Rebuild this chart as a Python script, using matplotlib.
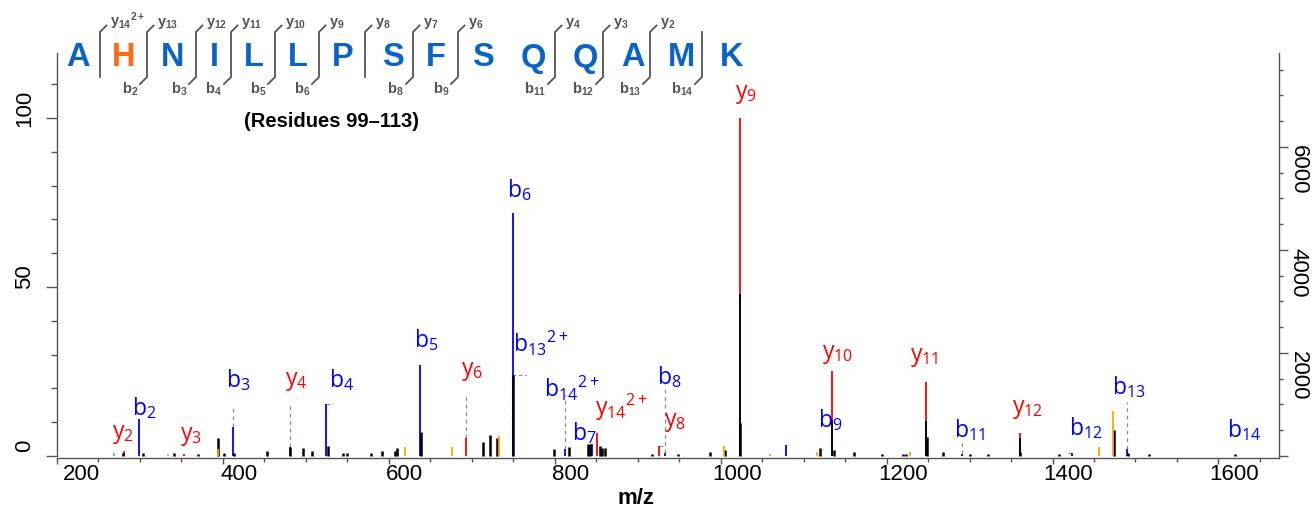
import matplotlib
matplotlib.use("Agg")
import matplotlib.pyplot as plt
from matplotlib.ticker import MultipleLocator, FixedLocator
from matplotlib.transforms import Affine2D
from matplotlib.lines import Line2D

plt.rcParams['font.family'] = ['Liberation Sans', 'DejaVu Sans']
plt.rcParams['mathtext.fontset'] = 'custom'
plt.rcParams['mathtext.rm'] = 'Open Sans'
plt.rcParams['mathtext.it'] = 'Open Sans:italic'
plt.rcParams['mathtext.bf'] = 'Liberation Sans:bold'

# ---------------- data (relative intensity, %) ----------------
b_mz = [298.4, 411.7, 524.1, 637.3, 749.8, 812.4, 844.6, 932.5, 1078.3, 1291.2, 1422.9, 1489.2]
b_int = [10.8, 8.7, 15.4, 26.8, 72.0, 2.0, 3.5, 1.0, 3.3, 0.5, 0.8, 2.0]

y_mz = [281.1, 353.4, 481.1, 692.8, 851.4, 925.7, 1022.9, 1134.6, 1247.8, 1360.2]
y_int = [1.5, 0.5, 2.6, 5.2, 6.9, 3.0, 100.0, 25.0, 22.0, 6.7]

orange_mz = [333.7, 394.3, 619.6, 675.9, 732.2, 1004.0, 1059.4, 1116.5, 1228.1, 1455.8, 1472.7]
orange_int = [0.5, 2.0, 2.6, 2.6, 6.0, 3.0, 0.5, 1.3, 1.2, 2.8, 13.3]

cyan_mz = [269.0]
cyan_int = [0.8]

black_mz = [279.2, 303.3, 340.6, 369.5, 394.3, 400.8, 413.6, 452.6, 481.1, 496.7, 507.2,
            526.1, 544.6, 549.0, 578.3, 591.2, 607.6, 609.6, 638.6, 713.6, 721.7, 730.1,
            749.8, 799.2, 817.2, 840.6, 842.5, 854.6, 857.5, 860.2, 916.9, 949.0, 987.1,
            1005.2, 1022.9, 1119.6, 1136.5, 1160.6, 1194.0, 1220.1, 1223.7, 1249.0, 1268.3,
            1300.0, 1322.0, 1361.4, 1408.4, 1474.7, 1490.7, 1516.9, 1620.5]
black_int = [1.0, 1.0, 1.0, 0.7, 5.2, 1.0, 1.0, 1.5, 2.6, 2.5, 1.5,
             3.0, 0.8, 0.8, 1.0, 1.5, 1.5, 2.5, 7.2, 4.0, 6.2, 5.2,
             24.0, 2.0, 2.6, 3.5, 3.5, 3.0, 2.5, 2.5, 0.5, 0.7, 1.2,
             1.8, 9.7, 2.3, 1.8, 1.2, 0.5, 0.6, 0.6, 5.7, 1.2,
             0.7, 0.5, 1.2, 0.5, 7.7, 0.8, 0.5, 0.5]

black_thin_mz = [1022.9, 1134.6, 1247.8, 1360.2]
black_thin_int = [48.0, 10.5, 10.4, 5.2]

# dashed guide lines from peak top to label
guide_mz = [411.7, 481.1, 692.8, 748.0, 812.4, 932.5, 1291.2, 1489.2]
guide_lo = [8.7, 2.6, 5.2, 0.0, 2.0, 1.0, 0.5, 2.0]
guide_hi = [15.0, 15.0, 18.0, 24.0, 18.0, 21.0, 4.7, 16.0]
# short horizontal brackets
bracket_x0 = [524.1, 748.0, 925.7, 1419.0]
bracket_x1 = [533.0, 765.0, 932.5, 1424.0]
bracket_y = [15.4, 24.0, 3.0, 0.8]

# peak labels: text, m/z, baseline height, ion type
lab_text = [r'$\mathrm{y}_{2}$', r'$\mathrm{b}_{2}$', r'$\mathrm{y}_{3}$', r'$\mathrm{b}_{3}$',
            r'$\mathrm{y}_{4}$', r'$\mathrm{b}_{4}$', r'$\mathrm{b}_{5}$', r'$\mathrm{y}_{6}$',
            r'$\mathrm{b}_{6}$', r'$\mathrm{b}_{13}{}^{2+}$', r'$\mathrm{b}_{14}{}^{2+}$',
            r'$\mathrm{b}_{7}$', r'$\mathrm{y}_{14}{}^{2+}$', r'$\mathrm{b}_{8}$', r'$\mathrm{y}_{8}$',
            r'$\mathrm{y}_{9}$', r'$\mathrm{y}_{10}$', r'$\mathrm{b}_{9}$', r'$\mathrm{y}_{11}$',
            r'$\mathrm{b}_{11}$', r'$\mathrm{y}_{12}$', r'$\mathrm{b}_{12}$', r'$\mathrm{b}_{13}$',
            r'$\mathrm{b}_{14}$']
lab_mz = [279.2, 305.2, 361.4, 418.1, 488.0, 543.4, 644.6, 700.0, 757.8, 783.1, 821.1,
          835.3, 880.7, 937.8, 944.9, 1030.0, 1140.6, 1132.5, 1245.8, 1300.4, 1369.5,
          1439.8, 1492.0, 1630.5]
lab_y = [5.3, 12.0, 4.8, 20.4, 21.0, 20.4, 32.2, 24.0, 76.6, 30.7, 17.4,
         4.6, 12.2, 21.4, 8.8, 105.9, 29.0, 8.6, 28.0, 5.6, 12.7, 6.1, 18.4, 5.6]
lab_type = ['y', 'b', 'y', 'b', 'y', 'b', 'b', 'y', 'b', 'b', 'b',
            'b', 'y', 'b', 'y', 'y', 'y', 'b', 'y', 'b', 'y', 'b', 'b', 'b']

x_ticklabels = [200, 400, 600, 800, 1000, 1200, 1400, 1600]
left_ticklabels = [0, 50, 100]
right_ticklabels = [2000, 4000, 6000]
COUNTS_PER_PCT = 65.63

# peptide header
sequence = list("AHNILLPSFSQQAMK")
seq_colors = ['#0A64C8', '#FF6A13'] + ['#0A64C8'] * 13
cut_y = [r'$\mathbf{y}_{\mathbf{14}}{}^{\mathbf{2+}}$', r'$\mathbf{y}_{\mathbf{13}}$',
         r'$\mathbf{y}_{\mathbf{12}}$', r'$\mathbf{y}_{\mathbf{11}}$', r'$\mathbf{y}_{\mathbf{10}}$',
         r'$\mathbf{y}_{\mathbf{9}}$', r'$\mathbf{y}_{\mathbf{8}}$', r'$\mathbf{y}_{\mathbf{7}}$',
         r'$\mathbf{y}_{\mathbf{6}}$', r'$\mathbf{y}_{\mathbf{4}}$', r'$\mathbf{y}_{\mathbf{3}}$',
         r'$\mathbf{y}_{\mathbf{2}}$', None]
cut_b = [None, r'$\mathbf{b}_{\mathbf{2}}$', r'$\mathbf{b}_{\mathbf{3}}$', r'$\mathbf{b}_{\mathbf{4}}$',
         r'$\mathbf{b}_{\mathbf{5}}$', r'$\mathbf{b}_{\mathbf{6}}$', None, r'$\mathbf{b}_{\mathbf{8}}$',
         r'$\mathbf{b}_{\mathbf{9}}$', r'$\mathbf{b}_{\mathbf{11}}$', r'$\mathbf{b}_{\mathbf{12}}$',
         r'$\mathbf{b}_{\mathbf{13}}$', r'$\mathbf{b}_{\mathbf{14}}$']

# ---------------- layout (pixels) ----------------
W, H = 1315, 508
fig = plt.figure(figsize=(W / 100, H / 100), dpi=100)
L, R, B, T = 57, 1279, 458, 53
ax = fig.add_axes([L / W, (H - B) / H, (R - L) / W, (B - T) / H])
ax.set_xlim(200, 1673)
ax.set_ylim(-0.6, 119.2)

BLUE, RED, ORANGE, CYAN = '#0000FF', '#FF0000', '#FFA500', '#3FC5E8'
ax.vlines(b_mz, 0, b_int, colors=BLUE, lw=1.3, zorder=2)
ax.vlines(y_mz, 0, y_int, colors=RED, lw=1.3, zorder=2)
ax.vlines(black_thin_mz, 0, black_thin_int, colors='black', lw=1.3, zorder=3)
ax.vlines(black_mz, 0, black_int, colors='black', lw=1.8, zorder=3)
ax.vlines(orange_mz, 0, orange_int, colors=ORANGE, lw=1.3, zorder=4)
ax.vlines(cyan_mz, 0, cyan_int, colors=CYAN, lw=1.3, zorder=4)

GRAY = '#8C8C8C'
ax.vlines(guide_mz, guide_lo, guide_hi, colors=GRAY, lw=0.9, linestyles=(0, (3, 3)), zorder=1)
ax.hlines(bracket_y, bracket_x0, bracket_x1, colors=GRAY, lw=0.9, linestyles=(0, (3, 2)), zorder=1)

for t, x, y, k in zip(lab_text, lab_mz, lab_y, lab_type):
    ax.text(x, y, t, color=BLUE if k == 'b' else RED, fontsize=16.5,
            ha='center', va='baseline', zorder=5)

AX_COL = '#555555'
for s in ['top', 'right']:
    ax.spines[s].set_visible(False)
for s in ['left', 'bottom']:
    ax.spines[s].set_color(AX_COL)
    ax.spines[s].set_linewidth(1.0)
ax.spines['left'].set_bounds(0, 119.2)

ax.xaxis.set_major_locator(MultipleLocator(200))
ax.xaxis.set_minor_locator(MultipleLocator(50))
ax.yaxis.set_major_locator(FixedLocator(left_ticklabels))
ax.yaxis.set_minor_locator(MultipleLocator(10))
ax.tick_params(axis='x', which='major', length=4.3, width=1.0, color=AX_COL, labelbottom=False)
ax.tick_params(axis='x', which='minor', length=3.0, width=1.0, color=AX_COL)
ax.tick_params(axis='y', which='major', length=7.7, width=1.0, color=AX_COL, labelleft=False)
ax.tick_params(axis='y', which='minor', length=4.1, width=1.0, color=AX_COL)

ax2 = ax.twinx()
ax2.set_ylim(-0.6 * COUNTS_PER_PCT, 119.2 * COUNTS_PER_PCT)
for s in ['top', 'left', 'bottom']:
    ax2.spines[s].set_visible(False)
ax2.spines['right'].set_color(AX_COL)
ax2.spines['right'].set_linewidth(1.0)
ax2.yaxis.set_major_locator(FixedLocator([0] + right_ticklabels))
ax2.yaxis.set_minor_locator(MultipleLocator(500))
ax2.tick_params(axis='y', which='major', length=6.5, width=1.0, color=AX_COL, labelright=False)
ax2.tick_params(axis='y', which='minor', length=3.0, width=1.0, color=AX_COL)

for v in x_ticklabels:
    dx = 24 if v == x_ticklabels[0] else 16
    ax.annotate(str(v), xy=(v, 0), xycoords=('data', 'axes fraction'), xytext=(dx, -17),
                textcoords='offset pixels', ha='center', va='center', fontsize=16)
for v in left_ticklabels:
    ax.annotate(str(v), xy=(0, v), xycoords=('axes fraction', 'data'), xytext=(-32, 10),
                textcoords='offset pixels', ha='center', va='center', fontsize=16, rotation=90)
for v in right_ticklabels:
    ax2.annotate(str(v), xy=(1, v), xycoords=('axes fraction', 'data'), xytext=(19, -23),
                 textcoords='offset pixels', ha='center', va='center', fontsize=16, rotation=-90)

fig.text(636 / W, 1 - 499 / H, 'm/z', fontsize=16, fontweight='bold', ha='center', va='center')

# ---------------- peptide header ----------------
pix = Affine2D().scale(1 / W, -1 / H).translate(0, 1) + fig.transFigure
seq_x = [78, 124, 173, 214, 254, 298, 343, 393, 436, 483, 533, 585, 633, 681, 732]
cut_x = [100, 147, 196, 231, 275, 319, 365, 413, 458, 555, 603, 650, 702]
for ch, x, c in zip(sequence, seq_x, seq_colors):
    fig.text(x, 66.5, ch, transform=pix, fontsize=23.5, fontweight='bold', color=c,
             ha='center', va='baseline')

MK = '#555555'
for x, yl, bl in zip(cut_x, cut_y, cut_b):
    xs, ys = [x, x], [32, 77]
    if yl is not None:
        xs, ys = [x + 6.5] + xs, [25.5] + ys
    if bl is not None:
        xs, ys = xs + [x - 7], ys + [84]
    fig.add_artist(Line2D(xs, ys, transform=pix, color=MK, lw=1.3, solid_joinstyle='miter'))
    if yl is not None:
        fig.text(x + 10, 26, yl, transform=pix, fontsize=10.5, color=MK, ha='left', va='baseline')
    if bl is not None:
        fig.text(x - 9, 94, bl, transform=pix, fontsize=10.5, color=MK, ha='right', va='baseline')

fig.text(332, 127, '(Residues 99\u2013113)', transform=pix, fontsize=14.5, fontweight='bold',
         ha='center', va='baseline')

fig.savefig('out.png', dpi=100)
